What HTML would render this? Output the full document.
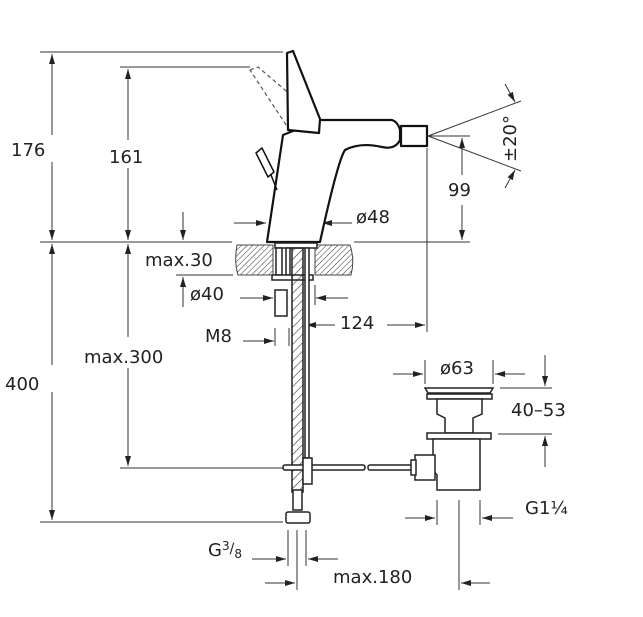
<!DOCTYPE html>
<html><head><meta charset="utf-8"><style>
html,body{margin:0;padding:0;background:#fff}
svg{display:block}
text{font-family:"DejaVu Sans","Liberation Sans",sans-serif;font-size:18px;fill:#222}
</style></head><body>
<svg width="643" height="617" viewBox="0 0 643 617" xmlns="http://www.w3.org/2000/svg">
<defs>
<marker id="a" viewBox="0 0 10 6" refX="10" refY="3" markerWidth="10" markerHeight="6" orient="auto" markerUnits="userSpaceOnUse"><path d="M0,0 L10,3 L0,6 Z" fill="#222"/></marker>
<pattern id="h" width="4" height="4" patternUnits="userSpaceOnUse" patternTransform="rotate(45)"><line x1="0" y1="0" x2="0" y2="4" stroke="#333" stroke-width="1"/></pattern>
<pattern id="x" width="6" height="6" patternUnits="userSpaceOnUse" patternTransform="rotate(45)"><line x1="0" y1="0" x2="0" y2="6" stroke="#333" stroke-width="1.2"/></pattern>
</defs>
<g stroke="#333" stroke-width="1" fill="none">
<line x1="40" y1="52" x2="283" y2="52"/>
<line x1="120" y1="67" x2="250" y2="67"/>
<line x1="40" y1="242" x2="232" y2="242"/>
<line x1="354" y1="242" x2="470" y2="242"/>
<line x1="120" y1="468" x2="283" y2="468"/>
<line x1="40" y1="522" x2="283" y2="522"/>
<line x1="176" y1="275" x2="233" y2="275"/>
<line x1="430" y1="136" x2="470" y2="136"/>
<line x1="427" y1="148" x2="427" y2="332"/>
<line x1="500" y1="388" x2="552" y2="388"/>
<line x1="498" y1="434" x2="552" y2="434"/>
<line x1="425" y1="360" x2="425" y2="384"/>
<line x1="493" y1="360" x2="493" y2="384"/>
<line x1="437" y1="500" x2="437" y2="525"/>
<line x1="480" y1="500" x2="480" y2="525"/>
<line x1="459" y1="500" x2="459" y2="590"/>
<line x1="288" y1="530" x2="288" y2="566"/>
<line x1="297" y1="530" x2="297" y2="590"/>
<line x1="306" y1="530" x2="306" y2="566"/>
<line x1="320" y1="210" x2="320" y2="225"/>
<line x1="275" y1="328" x2="275" y2="346"/>
<line x1="289" y1="328" x2="289" y2="346"/>
<line x1="315" y1="285" x2="315" y2="305"/>
<line x1="52" y1="135" x2="52" y2="54" marker-end="url(#a)"/>
<line x1="52" y1="162" x2="52" y2="240" marker-end="url(#a)"/>
<line x1="52" y1="365" x2="52" y2="244" marker-end="url(#a)"/>
<line x1="52" y1="392" x2="52" y2="520" marker-end="url(#a)"/>
<line x1="128" y1="140" x2="128" y2="69" marker-end="url(#a)"/>
<line x1="128" y1="168" x2="128" y2="240" marker-end="url(#a)"/>
<line x1="128" y1="337" x2="128" y2="244" marker-end="url(#a)"/>
<line x1="128" y1="368" x2="128" y2="466" marker-end="url(#a)"/>
<line x1="183" y1="212" x2="183" y2="240" marker-end="url(#a)"/>
<line x1="183" y1="307" x2="183" y2="277" marker-end="url(#a)"/>
<line x1="234" y1="223" x2="266" y2="223" marker-end="url(#a)"/>
<line x1="352" y1="223" x2="322" y2="223" marker-end="url(#a)"/>
<line x1="462" y1="175" x2="462" y2="138" marker-end="url(#a)"/>
<line x1="462" y1="205" x2="462" y2="240" marker-end="url(#a)"/>
<line x1="428" y1="136" x2="521" y2="101"/>
<line x1="428" y1="136" x2="521" y2="171"/>
<line x1="505" y1="84" x2="515" y2="102" marker-end="url(#a)"/>
<line x1="505" y1="188" x2="515" y2="170" marker-end="url(#a)"/>
<line x1="240" y1="298" x2="273" y2="298" marker-end="url(#a)"/>
<line x1="348" y1="298" x2="316" y2="298" marker-end="url(#a)"/>
<line x1="243" y1="341" x2="274" y2="341" marker-end="url(#a)"/>
<line x1="335" y1="325" x2="306" y2="325" marker-end="url(#a)"/>
<line x1="387" y1="325" x2="425" y2="325" marker-end="url(#a)"/>
<line x1="393" y1="374" x2="423" y2="374" marker-end="url(#a)"/>
<line x1="525" y1="374" x2="495" y2="374" marker-end="url(#a)"/>
<line x1="545" y1="355" x2="545" y2="386" marker-end="url(#a)"/>
<line x1="545" y1="467" x2="545" y2="436" marker-end="url(#a)"/>
<line x1="405" y1="518" x2="435" y2="518" marker-end="url(#a)"/>
<line x1="513" y1="518" x2="482" y2="518" marker-end="url(#a)"/>
<line x1="252" y1="559" x2="286" y2="559" marker-end="url(#a)"/>
<line x1="338" y1="559" x2="308" y2="559" marker-end="url(#a)"/>
<line x1="265" y1="583" x2="295" y2="583" marker-end="url(#a)"/>
<line x1="490" y1="583" x2="461" y2="583" marker-end="url(#a)"/>
</g>
<g stroke="#111" stroke-width="2.2" fill="#fff" stroke-linejoin="round">
<path d="M250,70 L258,67 L318,118 L318,134 L292,134 Z" stroke="#555" stroke-width="1.2" stroke-dasharray="4,3" fill="none"/>
<path d="M267,242 L283,135 L320,120 L392,120 Q398,122 400,130 L400,140 Q395,150 382,147 Q360,142 345,150 Q338,160 320,242 Z"/>
<path d="M287,53 L293,51 L320,119 L319,133 L288,130 Z"/>
<rect x="401" y="126" width="26" height="20"/>
<path d="M256,153 L262,148 L274,172 L268,177 Z" stroke-width="1.5"/>
<line x1="271" y1="175" x2="277" y2="190" stroke-width="1.5"/>
</g>
<path d="M237,245 L273,245 L273,275 L238,275 Q234,262 237,245 Z" fill="url(#h)" stroke="#444"/>
<path d="M315,245 L350,245 Q355,260 351,275 L315,275 Z" fill="url(#h)" stroke="#444"/>
<g stroke="#222" stroke-width="1.5" fill="#fff">
<rect x="275" y="243" width="42" height="5"/>
<rect x="276" y="248" width="6" height="27"/>
<rect x="286" y="248" width="4" height="27"/>
<rect x="272" y="275" width="41" height="5"/>
<rect x="275" y="290" width="12" height="26"/>
<rect x="292" y="248" width="11" height="244" fill="url(#x)"/>
<rect x="305" y="248" width="4" height="210"/>
<rect x="293" y="490" width="9" height="20"/>
<rect x="286" y="512" width="24" height="11" rx="2"/>
<rect x="283" y="465" width="82" height="5" rx="2"/>
<rect x="368" y="465" width="47" height="5" rx="2"/>
<rect x="303" y="458" width="9" height="26"/>
<path d="M425,388 L493,388 L490,393 L428,393 Z"/>
<rect x="427" y="394" width="65" height="5"/>
<path d="M437,399 L482,399 L482,414 L473,418 L473,433 L445,433 L445,418 L437,414 Z"/>
<rect x="427" y="433" width="64" height="6"/>
<path d="M433,439 L480,439 L480,490 L437,490 L437,475 L433,470 Z"/>
<rect x="415" y="455" width="20" height="25"/>
<rect x="411" y="460" width="5" height="15"/>
</g>
<text x="11" y="156">176</text>
<text x="109" y="163">161</text>
<text x="5" y="390">400</text>
<text x="84" y="363">max.300</text>
<text x="145" y="266">max.30</text>
<text x="190" y="300">ø40</text>
<text x="205" y="342">M8</text>
<text x="356" y="223">ø48</text>
<text x="340" y="329">124</text>
<text x="448" y="196">99</text>
<text transform="translate(516,162) rotate(-90)">±20°</text>
<text x="440" y="374">ø63</text>
<text x="511" y="416">40–53</text>
<text x="525" y="514">G1¼</text>
<text x="208" y="556">G<tspan font-size="12" dy="-6">3</tspan><tspan font-size="14" dy="3">/</tspan><tspan font-size="12" dy="5">8</tspan></text>
<text x="333" y="583">max.180</text>
</svg>
</body></html>
